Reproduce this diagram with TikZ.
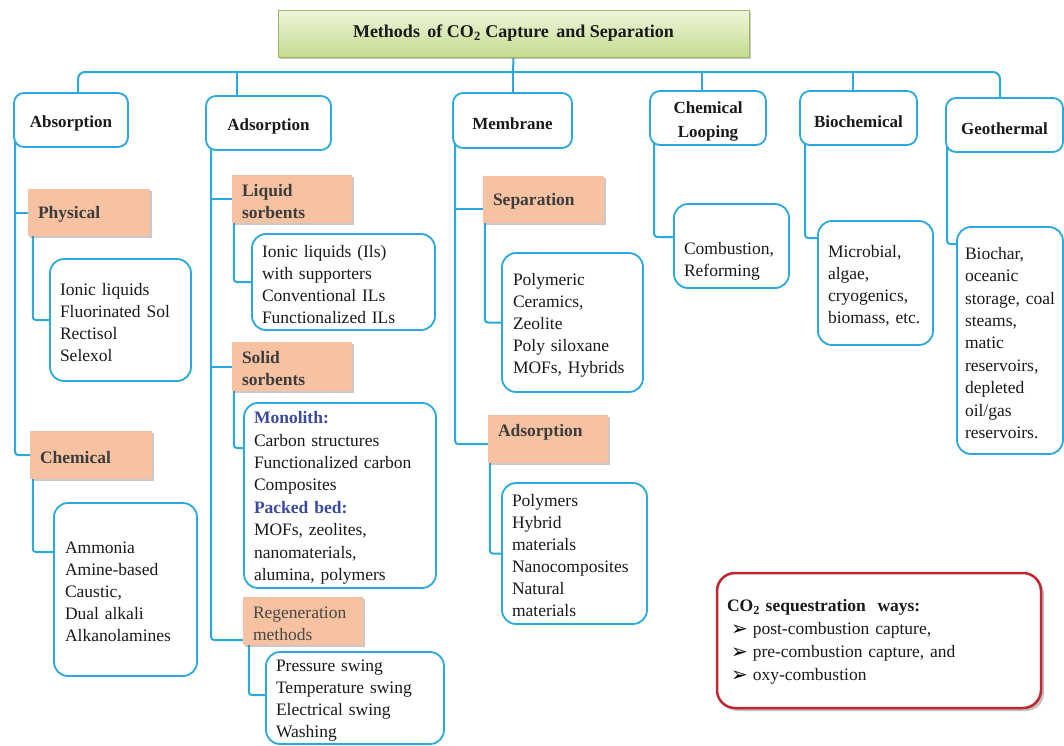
\documentclass[tikz,border=0pt]{standalone}
\usepackage{fontspec}
\setmainfont{Liberation Serif}
\newfontfamily\dingfont{DejaVu Sans}
\usetikzlibrary{shadows}
\pgfdeclarelayer{bg}
\pgfsetlayers{bg,main}
\definecolor{lineblue}{HTML}{29A9E0}
\definecolor{salmon}{HTML}{F7C2A2}
\definecolor{headgray}{HTML}{3C3C3C}
\definecolor{txt}{HTML}{1A1A1A}
\definecolor{monoblue}{HTML}{3B4A9E}
\definecolor{seqred}{HTML}{C0262D}
\definecolor{titletop}{HTML}{EEF6DA}
\definecolor{titlebot}{HTML}{C3DB8E}
\definecolor{titleborder}{HTML}{9DB46C}
\newcommand\seqbul{\hspace*{4pt}\raisebox{-0.5pt}{\dingfont\fontsize{20}{20}\selectfont\color{black}➢}\hspace{5pt}}
\tikzset{
  conn/.style={draw=lineblue, line width=2pt, rounded corners=3pt},
  titlebox/.style={draw=titleborder, line width=0.8pt, top color=titletop, bottom color=titlebot,
    inner sep=0pt, font=\fontsize{18}{22}\selectfont\bfseries, text=txt,
    drop shadow={shadow xshift=2pt, shadow yshift=-2pt, opacity=0.35, fill=black!60}},
  catbox/.style={draw=lineblue, line width=1.8pt, rounded corners=10pt, fill=white, inner sep=0pt,
    align=center, font=\fontsize{17}{24}\selectfont\bfseries, text=txt,
    execute at begin node={\rule{0pt}{18.5pt}}},
  subhead/.style={fill=salmon, inner xsep=10pt, inner ysep=0pt, align=left,
    font=\fontsize{17.5}{22}\selectfont\bfseries, text=headgray,
    execute at begin node={\rule{0pt}{16.5pt}},
    drop shadow={shadow xshift=2pt, shadow yshift=-2pt, opacity=0.35, fill=black!60}},
  itembox/.style={draw=lineblue, line width=1.8pt, rounded corners=14pt, fill=white,
    inner xsep=10pt, inner ysep=0pt, align=left, font=\fontsize{17.5}{22}\selectfont, text=txt,
    execute at begin node={\rule{0pt}{17pt}}},
  seqbox/.style={draw=seqred, line width=2.5pt, rounded corners=18pt, fill=white,
    inner xsep=10pt, inner ysep=0pt, align=left, font=\fontsize{17.5}{23}\selectfont, text=txt,
    execute at begin node={\rule{0pt}{15pt}},
    drop shadow={shadow xshift=3pt, shadow yshift=-3pt, opacity=0.4, fill=black!60}},
}
\begin{document}
\begin{tikzpicture}[x=1pt, y=-1pt]
\useasboundingbox (0,0) rectangle (1064,745);

% title
\node[titlebox, minimum width=471pt, minimum height=47pt] (title) at (513.5,33.5)
  {Methods\ \,of CO\textsubscript{2} Capture\ \,and Separation};

% level 1
\node[catbox, minimum width=114pt, minimum height=54pt] (abs) at (71,120) {Absorption};
\node[catbox, minimum width=125pt, minimum height=54pt] (ads) at (268.5,123) {Adsorption};
\node[catbox, minimum width=119pt, minimum height=55pt] (mem) at (512.5,120.5) {Membrane};
\node[catbox, minimum width=116pt, minimum height=54pt, text height=42pt] (chl) at (708,118) {Chemical\\Looping};
\node[catbox, minimum width=117pt, minimum height=54pt] (bio) at (858.5,118) {Biochemical};
\node[catbox, minimum width=117pt, minimum height=54pt] (geo) at (1004.5,125) {Geothermal};

% sub headings
\node[subhead, text width=102pt, minimum height=47pt] (phys) at (89,212.5) {Physical};
\node[subhead, text width=102pt, minimum height=48pt] (chem) at (91,455) {Chemical};
\node[subhead, text width=100pt, minimum height=48pt] (liq) at (292,199) {Liquid\\sorbents};
\node[subhead, text width=100pt, minimum height=49pt] (sol) at (292,366.5) {Solid\\sorbents};
\node[subhead, text width=100pt, minimum height=48pt, font=\fontsize{17.5}{22}\selectfont, text=black!72] (reg) at (303,621) {Regeneration\\methods};
\node[subhead, text width=101pt, minimum height=47pt] (sep) at (543.5,199.5) {Separation};
\node[subhead, text width=100pt, minimum height=48pt, text depth=22pt] (madsb) at (548,439) {Adsorption};

% item boxes
\node[itembox, text width=121pt, minimum height=122pt] (physc) at (120.5,320)
  {Ionic liquids\\Fluorinated Sol\\Rectisol\\Selexol};
\node[itembox, text width=121pt, minimum height=173pt, inner xsep=11pt] (chemc) at (125.5,589.5)
  {Ammonia\\Amine-based\\Caustic,\\Dual alkali\\Alkanolamines};
\node[itembox, text width=163pt, minimum height=96pt] (liqc) at (343.5,282)
  {Ionic liquids (Ils)\\with supporters\\Conventional ILs\\Functionalized ILs};
\node[itembox, text width=172pt, minimum height=185pt, font=\fontsize{17.5}{22.4}\selectfont] (solc) at (340,495.5)
  {\textcolor{monoblue}{\textbf{Monolith:}}\\Carbon structures\\Functionalized carbon\\Composites\\\textcolor{monoblue}{\textbf{Packed bed:}}\\MOFs, zeolites,\\nanomaterials,\\alumina, polymers};
\node[itembox, text width=158pt, minimum height=92pt] (regc) at (355,698)
  {Pressure swing\\Temperature swing\\Electrical swing\\Washing};
\node[itembox, text width=119pt, minimum height=139pt, inner xsep=11pt] (sepc) at (572.5,322.5)
  {Polymeric\\Ceramics,\\Zeolite\\Poly siloxane\\MOFs, Hybrids};
\node[itembox, text width=125pt, minimum height=141pt] (madsc) at (574.5,553.5)
  {Polymers\\Hybrid\\materials\\Nanocomposites\\Natural\\materials};
\node[itembox, text width=95pt, minimum height=84pt, text height=42pt] (chlc) at (731.5,246)
  {Combustion,\\Reforming};
\node[itembox, text width=95pt, minimum height=124pt] (bioc) at (875.5,283)
  {Microbial,\\algae,\\cryogenics,\\biomass, etc.};
\node[itembox, text width=90pt, inner xsep=8pt, minimum height=227pt, font=\fontsize{17.5}{22.4}\selectfont] (geoc) at (1010,340.5)
  {Biochar,\\oceanic\\storage, coal\\steams,\\matic\\reservoirs,\\depleted\\oil/gas\\reservoirs.};

% sequestration box
\node[seqbox, text width=304pt, minimum height=135pt] (seq) at (879,640.5)
  {\textbf{CO\textsubscript{2} sequestration\ \ ways:}\\
   \seqbul post-combustion capture,\\
   \seqbul pre-combustion capture, and\\
   \seqbul oxy-combustion};

\begin{pgfonlayer}{bg}
\fill[white] (0,0) rectangle (1064,745);
\coordinate (bus) at (513,72);
\draw[conn, rounded corners=7pt] ([xshift=7pt]abs.north) |- (bus) -| ([xshift=-4.5pt]geo.north);
\draw[conn] (title.south) -- (bus);
\coordinate (dB) at ([xshift=-31.5pt]ads.north);
\draw[conn] (dB) -- (dB |- bus);
\draw[conn] (mem.north) -- (mem.north |- bus);
\coordinate (dD) at ([xshift=-6pt]chl.north);
\draw[conn] (dD) -- (dD |- bus);
\coordinate (dE) at ([xshift=-5.5pt]bio.north);
\draw[conn] (dE) -- (dE |- bus);

% absorption
\coordinate (tA) at ([xshift=2pt,yshift=6pt]abs.south west);
\draw[conn] (tA) |- (chem.west);
\draw[conn] (tA |- phys.west) -- (phys.west);
\draw[conn] ([xshift=5pt,yshift=2pt]phys.south west) |- (physc.west);
\draw[conn] ([xshift=3pt,yshift=2pt]chem.south west) |- ([yshift=37.5pt]chemc.west);

% adsorption
\coordinate (tB) at ([xshift=6pt,yshift=6pt]ads.south west);
\draw[conn] (tB) |- ([yshift=-19pt]reg.west);
\draw[conn] (tB |- liq.west) -- (liq.west);
\draw[conn] (tB |- sol.west) -- (sol.west);
\draw[conn] ([xshift=2pt,yshift=2pt]liq.south west) |- (liqc.west);
\draw[conn] ([xshift=2pt,yshift=2pt]sol.south west) |- ([yshift=47.5pt]solc.west);
\draw[conn] ([xshift=6pt,yshift=2pt]reg.south west) |- ([yshift=3pt]regc.west);

% membrane
\coordinate (tC) at ([xshift=3pt,yshift=6pt]mem.south west);
\draw[conn] (tC) |- ([yshift=-5pt]madsb.west);
\coordinate (sB) at ([yshift=-9.5pt]sep.west);
\draw[conn] (tC |- sB) -- (sB);
\draw[conn] ([xshift=2pt,yshift=2pt]sep.south west) |- (sepc.west);
\draw[conn] ([xshift=2pt,yshift=2pt]madsb.south west) |- (madsc.west);

% others
\draw[conn] ([xshift=5pt,yshift=6pt]chl.south west) |- ([yshift=9pt]chlc.west);
\draw[conn] ([xshift=6pt,yshift=6pt]bio.south west) |- ([yshift=45pt]bioc.west);
\draw[conn] ([xshift=2pt,yshift=6pt]geo.south west) |- ([yshift=96.5pt]geoc.west);
\end{pgfonlayer}
\end{tikzpicture}
\end{document}
